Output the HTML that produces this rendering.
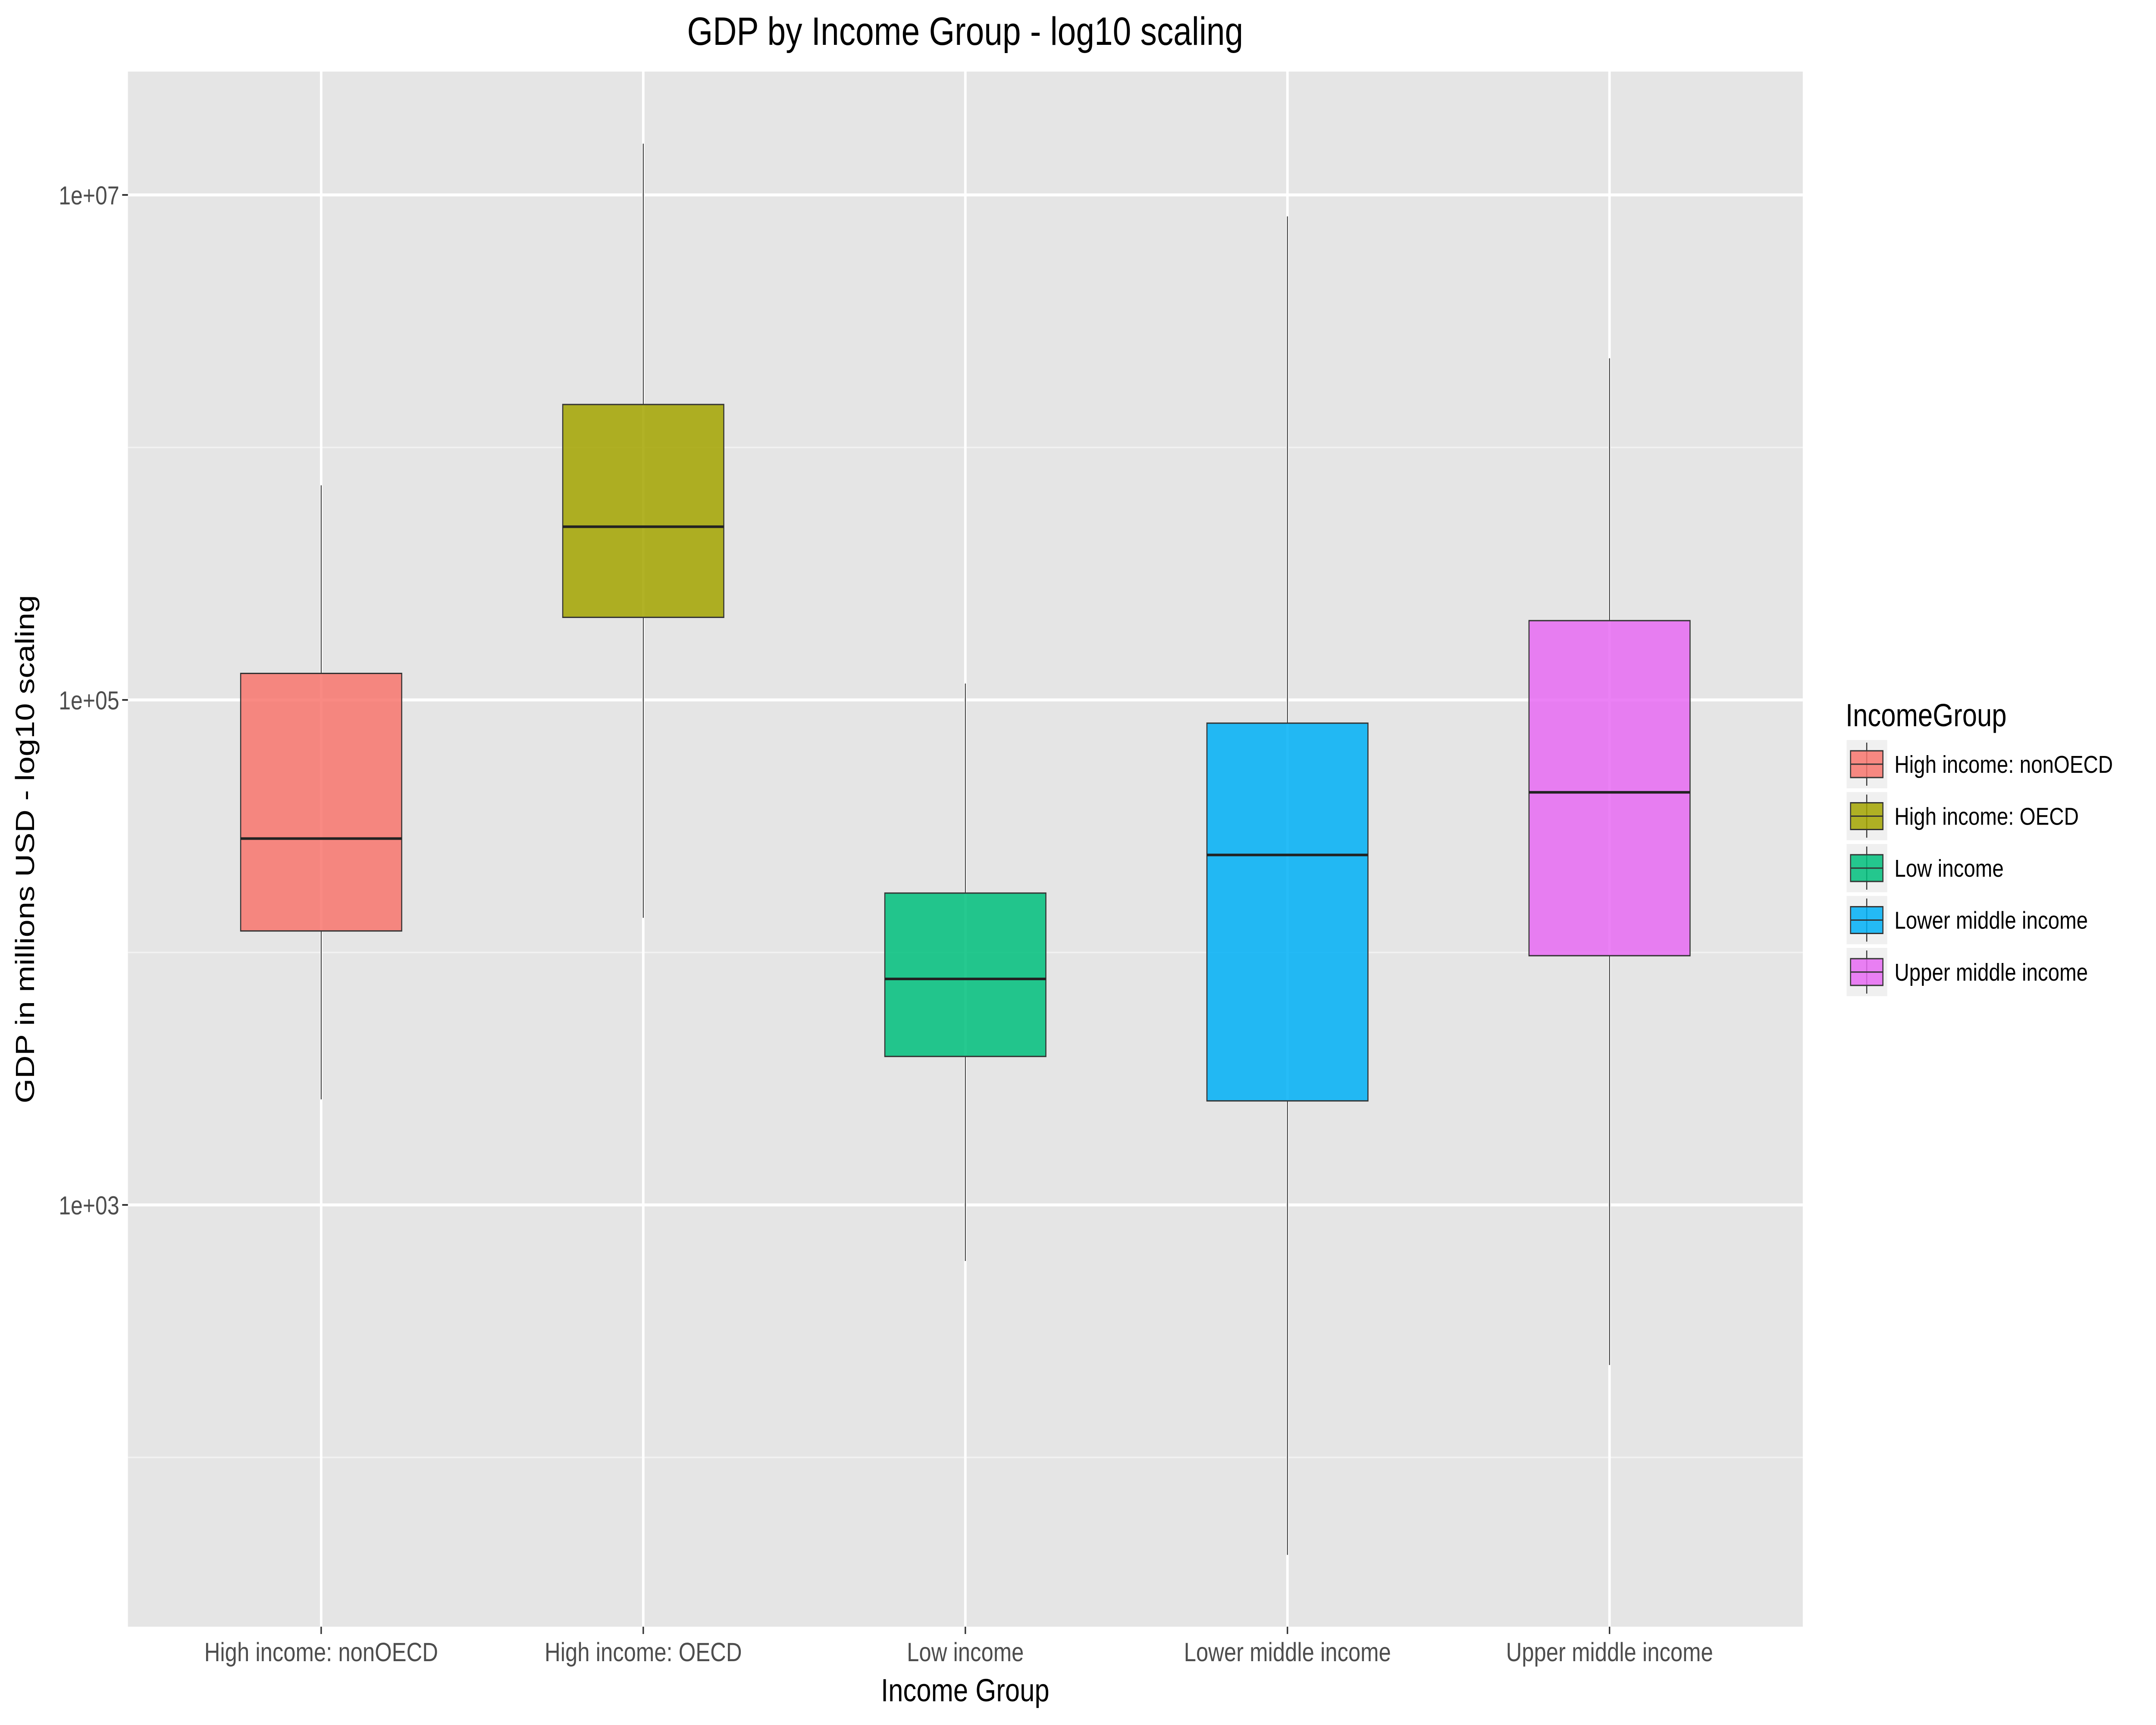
<!DOCTYPE html>
<html><head><meta charset="utf-8">
<style>
html,body{margin:0;padding:0;background:#fff;overflow:hidden;width:100%;height:100%;}
svg{display:block;font-family:"Liberation Sans",Arial,sans-serif;width:100vw;height:100vh;}
</style></head>
<body>
<svg id="chart" viewBox="0 0 6000 4000" preserveAspectRatio="none" xmlns="http://www.w3.org/2000/svg">
<rect x="0" y="0" width="6000" height="4000" fill="#ffffff"/>
<rect x="356" y="166" width="4661" height="3606" fill="#e5e5e5"/>
<g id="grid"></g>
<g id="boxes"></g>
<g id="axes"></g>
<text x="2686" y="104" font-size="92" text-anchor="middle" fill="#000">GDP by Income Group - log10 scaling</text>
<text x="2686" y="3945" font-size="74" text-anchor="middle" fill="#000">Income Group</text>
<text transform="translate(95,1969) rotate(-90)" font-size="74" text-anchor="middle" fill="#000">GDP in millions USD - log10 scaling</text>
<g id="legend">
<text x="5136" y="1684" font-size="74" fill="#000">IncomeGroup</text>
</g>
</svg>
<script>
const categories = ["High income: nonOECD","High income: OECD","Low income","Lower middle income","Upper middle income"];
// values in log10(millions USD)
const whiskerLow = [3.418, 4.137, 2.778, 1.614, 2.366];
const q1Values   = [4.085, 5.327, 3.588, 3.412, 3.987];
const medians    = [4.451, 5.686, 3.895, 4.386, 4.634];
const q3Values   = [5.105, 6.170, 4.235, 4.908, 5.314];
const whiskerHigh= [5.850, 7.203, 5.065, 6.915, 6.353];
const yTickValues = [3, 5, 7];
const yTickLabels = ["1e+03","1e+05","1e+07"];
const yMinorValues = [2, 4, 6];
const colors = ["#F8766D","#A3A500","#00BF7D","#00B0F6","#E76BF3"];

const NS = "http://www.w3.org/2000/svg";
const panel = {x:356, y:166, w:4661, h:3606};
const step = panel.w / (categories.length - 1 + 1.2);
function xScale(i){ return panel.x + step*(0.6 + i); }
function yScale(v){ return 452 + (7 - v) * 585.5; }
function mk(tag, attrs, parent){
  const e = document.createElementNS(NS, tag);
  for (const k in attrs) e.setAttribute(k, attrs[k]);
  parent.appendChild(e); return e;
}
const grid = document.getElementById('grid');
const boxes = document.getElementById('boxes');
const axes = document.getElementById('axes');
const legend = document.getElementById('legend');

yMinorValues.forEach(v=>{
  const l = mk('line',{x1:panel.x,x2:panel.x+panel.w,y1:yScale(v),y2:yScale(v),stroke:'#f2f2f2','stroke-width':3.5},grid);
  
  
});
yTickValues.forEach((v,i)=>{
  const y = yScale(v);
  const l = mk('line',{x1:panel.x,x2:panel.x+panel.w,y1:y,y2:y,stroke:'#ffffff','stroke-width':7},grid);
  
  
  const t = mk('line',{x1:panel.x-16,x2:panel.x,y1:y,y2:y,stroke:'#333','stroke-width':4},axes);
  
  
  const tx = mk('text',{x:panel.x-24,y:y+22,'font-size':60,'text-anchor':'end',fill:'#4d4d4d'},axes);
  tx.textContent = yTickLabels[i];
  
  
});
categories.forEach((c,i)=>{
  const x = xScale(i);
  const l = mk('line',{x1:x,x2:x,y1:panel.y,y2:panel.y+panel.h,stroke:'#ffffff','stroke-width':7},grid);
  
  
  const t = mk('line',{x1:x,x2:x,y1:panel.y+panel.h,y2:panel.y+panel.h+17,stroke:'#333','stroke-width':4},axes);
  
  
  const tx = mk('text',{x:x,y:3852,'font-size':61,'text-anchor':'middle',fill:'#4d4d4d'},axes);
  tx.textContent = c;
  
  

  const bw = step*0.5;
  const w1 = mk('line',{x1:x,x2:x,y1:yScale(whiskerHigh[i]),y2:yScale(q3Values[i]),stroke:'#333','stroke-width':2.5},boxes);
  
  
  const w2 = mk('line',{x1:x,x2:x,y1:yScale(q1Values[i]),y2:yScale(whiskerLow[i]),stroke:'#333','stroke-width':2.5},boxes);
  
  
  const r = mk('rect',{x:x-bw/2,y:yScale(q3Values[i]),width:bw,height:yScale(q1Values[i])-yScale(q3Values[i]),fill:colors[i],'fill-opacity':0.85,stroke:'#333','stroke-width':3},boxes);
  
  
  const m = mk('line',{x1:x-bw/2,x2:x+bw/2,y1:yScale(medians[i]),y2:yScale(medians[i]),stroke:'#222','stroke-width':6},boxes);
  
  

  // legend
  const cy = 1772 + i*120.5;
  const kb = mk('rect',{x:5139,y:cy-56,width:113,height:112,fill:'#f0f0f0'},legend);
  
  
  const kl = mk('line',{x1:5195,x2:5195,y1:cy-50,y2:cy+50,stroke:'#333','stroke-width':3},legend);
  
  
  const kr = mk('rect',{x:5150,y:cy-31,width:90,height:62,fill:colors[i],'fill-opacity':0.85,stroke:'#333','stroke-width':3},legend);
  
  
  const km = mk('line',{x1:5150,x2:5240,y1:cy,y2:cy,stroke:'#333','stroke-width':3},legend);
  
  
  const lt = mk('text',{x:5272,y:cy+20,'font-size':57,fill:'#000'},legend);
  lt.textContent = c;
  
  
});
</script>
</body></html>
